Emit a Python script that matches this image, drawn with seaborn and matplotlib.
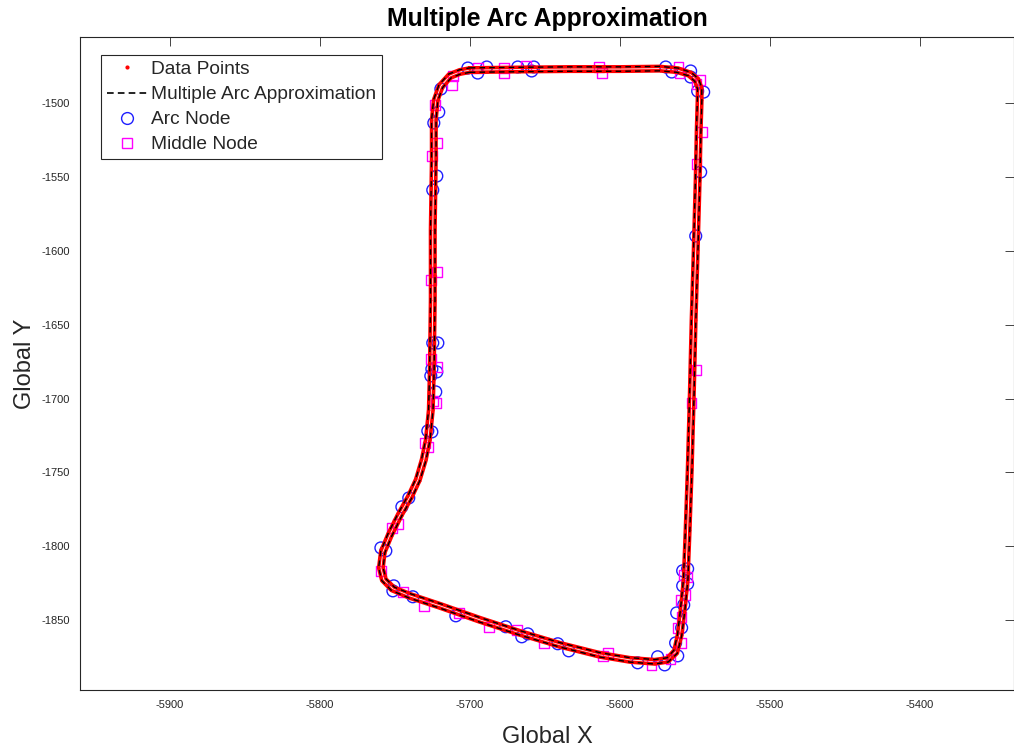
import matplotlib
matplotlib.use('Agg')
import numpy as np
import pandas as pd
import matplotlib.pyplot as plt
import seaborn as sns
from matplotlib.lines import Line2D

lap1_x = [-5700, -5666.7, -5633.3, -5600, -5573.3, -5561, -5552.3, -5547.5, -5545.3,
          -5545.2, -5545.8, -5546.5, -5547.8, -5549.2, -5550.5, -5551.8, -5553.2,
          -5554.5, -5556.5, -5558.6, -5561.6, -5567.6, -5576.7, -5593.3, -5613.3,
          -5640.4, -5667.1, -5693.8, -5720.5, -5740.6, -5752.3, -5758.7, -5760.8,
          -5759.4, -5754.6, -5748.0, -5741.3, -5736.1, -5732.2, -5729.5, -5727.5,
          -5726.8, -5726.2, -5726.2, -5725.5, -5725.5, -5724.1, -5720.5, -5714.1,
          -5706.9, -5700]
lap1_y = [-1476.2, -1475.8, -1475.5, -1475.5, -1475.2, -1476.3, -1479.3, -1483.5,
          -1489.4, -1498.0, -1518.3, -1552.1, -1599.5, -1646.8, -1700.9, -1748.3,
          -1788.9, -1822.7, -1843.0, -1860.4, -1872.5, -1878.3, -1879.7, -1878.4,
          -1875.0, -1868.1, -1860.0, -1851.2, -1841.7, -1835.0, -1829.9, -1823.3,
          -1814.6, -1803.3, -1791.6, -1778.1, -1765.9, -1754.6, -1741.2, -1728.0,
          -1707.7, -1680.6, -1633.3, -1585.9, -1538.6, -1511.5, -1497.6, -1487.5,
          -1480.4, -1477.5, -1476.2]
lap2_x = [-5700, -5666.7, -5633.3, -5600, -5573.3, -5562.0, -5554.3, -5549.9, -5548.1,
          -5548.2, -5548.8, -5549.5, -5550.8, -5552.2, -5553.5, -5554.8, -5556.2,
          -5557.5, -5559.5, -5561.4, -5563.8, -5568.4, -5576.7, -5593.3, -5613.3,
          -5639.6, -5666.3, -5692.8, -5719.5, -5739.4, -5750.3, -5755.9, -5757.8,
          -5756.6, -5752.0, -5745.4, -5738.7, -5733.3, -5729.2, -5726.5, -5724.5,
          -5723.8, -5723.2, -5723.2, -5722.5, -5722.5, -5721.3, -5718.1, -5712.5,
          -5706.5, -5700]
lap2_y = [-1479.2, -1478.8, -1478.5, -1478.5, -1478.2, -1479.2, -1481.5, -1485.3,
          -1490.4, -1498.0, -1518.3, -1552.1, -1599.5, -1646.8, -1700.9, -1748.3,
          -1788.9, -1822.7, -1843.0, -1859.4, -1870.3, -1875.5, -1876.7, -1875.4,
          -1872.0, -1865.3, -1857.2, -1848.4, -1838.9, -1832.2, -1827.7, -1822.1,
          -1814.6, -1804.3, -1793.0, -1779.5, -1767.3, -1755.6, -1741.8, -1728.0,
          -1707.7, -1680.6, -1633.3, -1585.9, -1538.6, -1511.5, -1498.4, -1489.5,
          -1483.0, -1480.5, -1479.2]

# Arc nodes
arc_x = [-5701.3, -5694.7, -5688.7, -5668.0, -5658.7, -5657.3, -5569.3, -5565.3,
         -5552.7, -5552.7, -5548.0, -5544.0, -5546.0, -5549.3, -5554.7, -5558.0,
         -5554.7, -5558.0, -5557.3, -5562.0, -5558.7, -5562.7, -5561.3, -5570.0,
         -5574.7, -5588.0, -5634.0, -5641.3, -5661.3, -5665.3, -5676.0, -5709.3,
         -5738.0, -5751.3, -5750.7, -5756.0, -5759.3, -5745.3, -5740.7, -5725.3,
         -5728.0, -5722.7, -5726.0, -5722.0, -5725.3, -5721.3, -5724.7, -5722.0,
         -5724.7, -5724.0, -5720.7, -5719.3]
arc_y = [-1476.3, -1479.7, -1475.6, -1475.6, -1478.3, -1475.6, -1475.6, -1479.0,
         -1478.3, -1482.4, -1491.9, -1492.6, -1546.7, -1590.0, -1815.3, -1816.6,
         -1825.4, -1826.8, -1839.7, -1845.1, -1855.2, -1865.4, -1874.2, -1880.3,
         -1874.8, -1878.9, -1870.8, -1866.0, -1859.3, -1861.3, -1854.5, -1847.1,
         -1834.2, -1830.2, -1826.8, -1803.1, -1801.1, -1773.3, -1767.3, -1722.6,
         -1721.9, -1695.5, -1684.7, -1682.0, -1680.0, -1662.4, -1662.4, -1549.4,
         -1558.9, -1513.5, -1506.1, -1490.5]

# Middle nodes
mid_x = [-5694.7, -5677.3, -5677.3, -5662.7, -5614.0, -5612.0, -5560.7, -5560.0,
         -5711.3, -5712.0, -5723.3, -5722.0, -5546.0, -5548.7, -5545.3, -5548.7,
         -5548.7, -5552.0, -5554.7, -5557.3, -5556.0, -5559.3, -5558.7, -5561.3,
         -5559.3, -5566.0, -5578.7, -5611.3, -5608.0, -5650.7, -5668.7, -5687.3,
         -5707.3, -5730.7, -5744.7, -5759.3, -5752.0, -5748.0, -5730.0, -5728.0,
         -5724.7, -5722.7, -5726.0, -5722.0, -5726.0, -5722.0, -5725.3]
mid_y = [-1476.3, -1476.3, -1479.7, -1475.0, -1475.6, -1479.7, -1475.6, -1479.7,
         -1481.7, -1487.8, -1501.4, -1527.1, -1484.4, -1487.1, -1519.6, -1541.3,
         -1680.6, -1703.0, -1820.7, -1819.4, -1832.9, -1836.3, -1847.8, -1855.2,
         -1865.4, -1876.2, -1880.3, -1874.2, -1872.1, -1865.4, -1856.6, -1854.5,
         -1845.1, -1840.3, -1830.9, -1816.6, -1787.6, -1784.8, -1730.0, -1732.7,
         -1701.6, -1703.0, -1673.2, -1678.6, -1619.8, -1614.3, -1535.9]

x_ticks = [-5900, -5800, -5700, -5600, -5500, -5400]
y_ticks = [-1850, -1800, -1750, -1700, -1650, -1600, -1550, -1500]

sns.set_style('white')
plt.rcParams['font.family'] = ['Liberation Sans', 'DejaVu Sans']
plt.rcParams['axes.unicode_minus'] = False

track = pd.DataFrame({
    'x': lap1_x + lap2_x,
    'y': lap1_y + lap2_y,
    'lap': [1] * len(lap1_x) + [2] * len(lap2_x),
})

fig = plt.figure(figsize=(10.14, 7.51), dpi=100)
ax = fig.add_axes([80 / 1014, 61 / 751, 934 / 1014, 653 / 751])

# data points (dense red dots -> red band)
sns.lineplot(data=track, x='x', y='y', units='lap', estimator=None, sort=False,
             color='red', lw=2.6, ax=ax, legend=False)
sns.scatterplot(data=track, x='x', y='y', color='red', s=6, marker='.',
                linewidth=0, ax=ax, legend=False)
# arc approximation
sns.lineplot(data=track, x='x', y='y', units='lap', estimator=None, sort=False,
             color='black', lw=1.0, linestyle=(0, (4, 3)), ax=ax, legend=False)
sns.scatterplot(x=arc_x, y=arc_y, marker='o', s=72, facecolor='none',
                edgecolor='#1f1fff', linewidth=1.0, ax=ax, legend=False)
sns.scatterplot(x=mid_x, y=mid_y, marker='s', s=48, facecolor='none',
                edgecolor='#ff00ff', linewidth=1.0, ax=ax, legend=False)

ax.set_xlim(-5960, -5337)
ax.set_ylim(-1897.3, -1455.3)
ax.set_xticks(x_ticks)
ax.set_yticks(y_ticks)
ax.tick_params(direction='in', length=6.5, width=0.6, top=True, right=True,
               labelsize=8, labelcolor='#262626', color='#262626', pad=7)
for s in ax.spines.values():
    s.set_color('#262626')
    s.set_linewidth(0.8)

ax.set_title('Multiple Arc Approximation', fontsize=17.8, fontweight='bold',
             color='black', pad=8)
ax.set_xlabel('Global X', fontsize=17, color='#262626', labelpad=12)
ax.set_ylabel('Global Y', fontsize=17, color='#262626', labelpad=4)

handles = [
    Line2D([], [], color='red', marker='.', ls='none', ms=4),
    Line2D([], [], color='black', lw=1.2, ls=(0, (4, 2.5))),
    Line2D([], [], color='#1f1fff', marker='o', mfc='none', ls='none', ms=8.5, mew=1.0),
    Line2D([], [], color='#ff00ff', marker='s', mfc='none', ls='none', ms=7, mew=1.0),
]
labels = ['Data Points', 'Multiple Arc Approximation', 'Arc Node', 'Middle Node']
leg = ax.legend(handles, labels, loc='upper left', bbox_to_anchor=(0.0225, 0.9724),
                borderaxespad=0, fontsize=13.8, frameon=True, fancybox=False,
                edgecolor='#262626', framealpha=1, borderpad=0.3, labelspacing=0.4,
                handlelength=2.1, handletextpad=0.2)
leg.get_frame().set_linewidth(0.8)

fig.savefig('out.png', dpi=100)
